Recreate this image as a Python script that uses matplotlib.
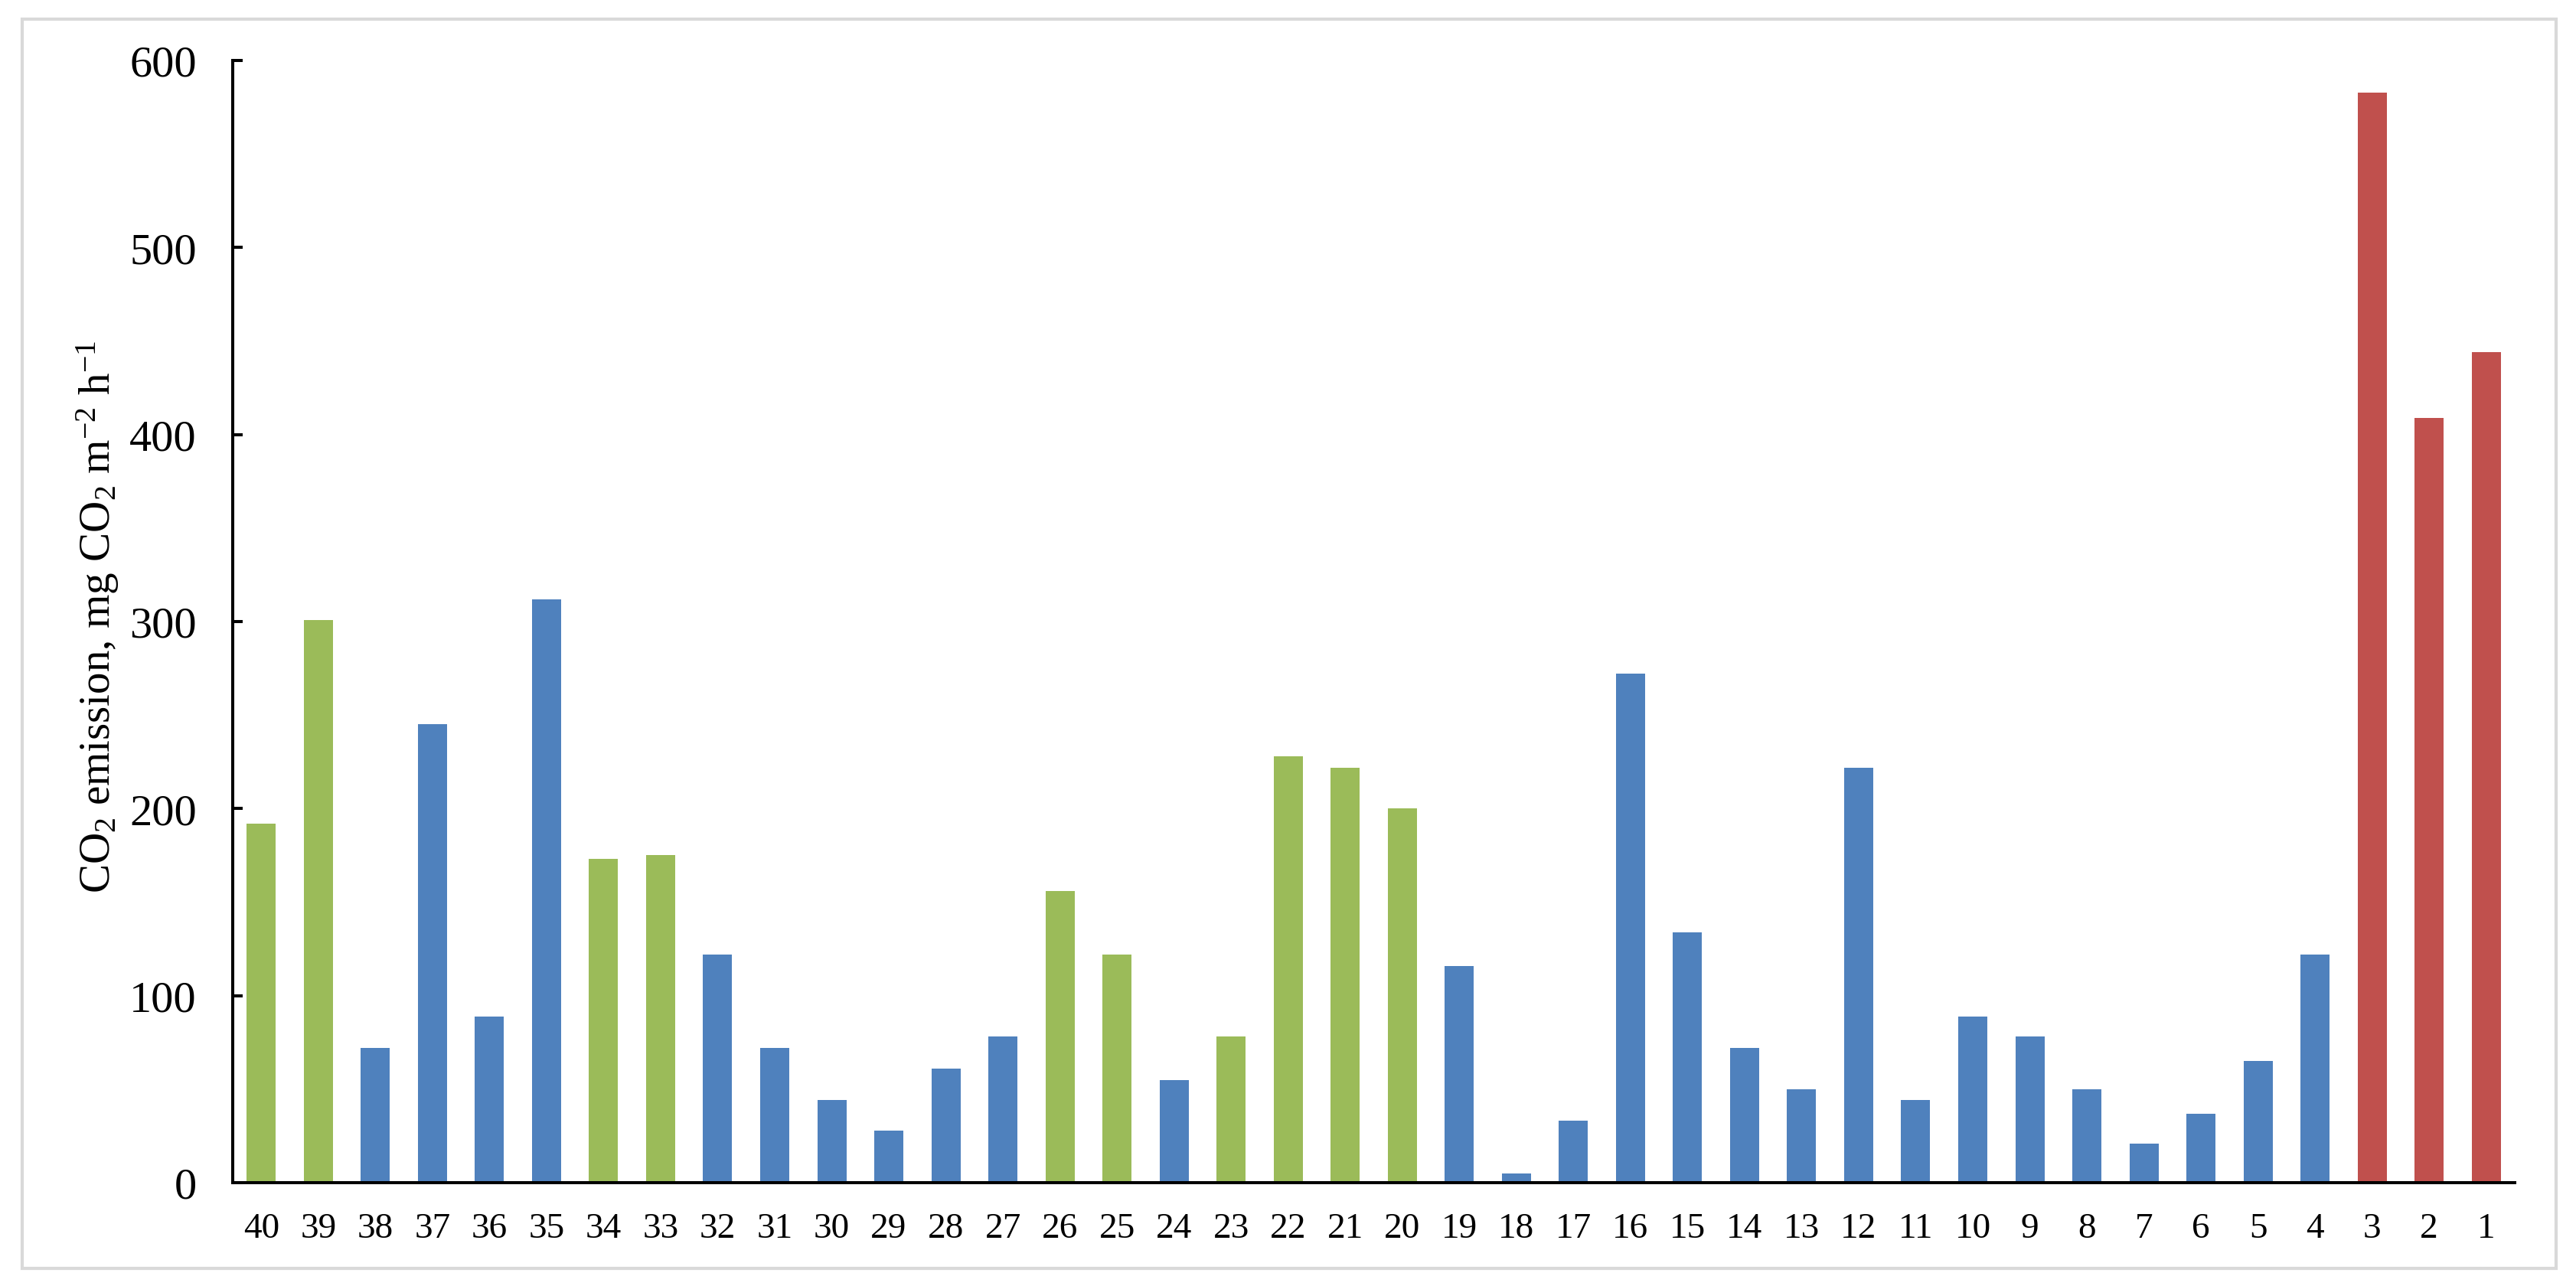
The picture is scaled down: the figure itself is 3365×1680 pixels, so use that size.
import matplotlib
matplotlib.use("Agg")
import matplotlib.pyplot as plt
from matplotlib.patches import Rectangle

plt.rcParams['font.family'] = ['Liberation Serif', 'DejaVu Serif']
plt.rcParams['mathtext.fontset'] = 'custom'
plt.rcParams['mathtext.rm'] = 'Liberation Serif'
plt.rcParams['mathtext.it'] = 'Liberation Serif:italic'
plt.rcParams['mathtext.bf'] = 'Liberation Serif:bold'

# Site numbers (left to right) and CO2 emission values
categories = [str(i) for i in range(40, 0, -1)]
values = [192, 301, 72, 245, 89, 312, 173, 175, 122, 72,
          44, 28, 61, 78, 156, 122, 55, 78, 228, 222,
          200, 116, 5, 33, 272, 134, 72, 50, 222, 44,
          89, 78, 50, 21, 37, 65, 122, 583, 409, 444]
# group of each bar: 'g' = green, 'b' = blue, 'r' = red
groups = ['g', 'g', 'b', 'b', 'b', 'b', 'g', 'g', 'b', 'b',
          'b', 'b', 'b', 'b', 'g', 'g', 'b', 'g', 'g', 'g',
          'g', 'b', 'b', 'b', 'b', 'b', 'b', 'b', 'b', 'b',
          'b', 'b', 'b', 'b', 'b', 'b', 'b', 'r', 'r', 'r']
yticks = [0, 100, 200, 300, 400, 500, 600]

palette = {'g': '#9BBB59', 'b': '#4F81BD', 'r': '#C0504D'}
colors = [palette[g] for g in groups]

W, H = 3366, 1681
fig = plt.figure(figsize=(W / 100, H / 100), dpi=100)
ax = fig.add_axes([304 / W, 1 - 1546 / H, (3285 - 304) / W, (1546 - 80) / H])

x = list(range(len(categories)))
ax.bar(x, values, width=0.51, color=colors, zorder=2)

ax.set_xlim(-0.5, len(categories) - 0.5)
ax.set_ylim(0, 600)
ax.set_xticks(x)
ax.set_xticklabels(categories, fontsize=34)
ax.set_yticks(yticks)
ax.set_yticklabels([str(v) for v in yticks], fontsize=42)
ax.tick_params(axis='x', length=0, pad=28)
ax.tick_params(axis='y', direction='in', length=9, width=2.9, pad=34)

for s in ['top', 'right']:
    ax.spines[s].set_visible(False)
for s in ['left', 'bottom']:
    ax.spines[s].set_linewidth(2.9)
    ax.spines[s].set_color('black')

ax.set_ylabel('CO$_2$ emission, mg CO$_2$ m$^{-2}$ h$^{-1}$', fontsize=41)
ax.yaxis.set_label_coords(-0.049, 0.505)

# light grey frame around the figure
fig.patches.append(Rectangle((29 / W, 1 - 1658 / H), (3339 - 29) / W, (1658 - 26) / H,
                             transform=fig.transFigure, fill=False,
                             edgecolor='#d9d9d9', linewidth=3))

fig.savefig('out.png', dpi=100)
